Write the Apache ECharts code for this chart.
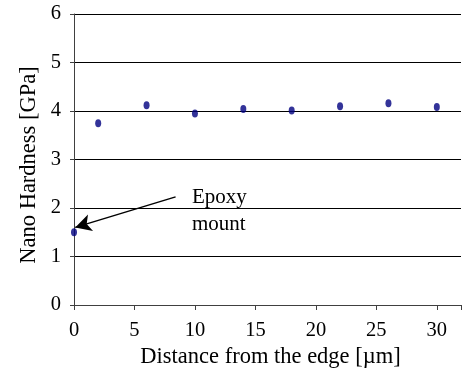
<!DOCTYPE html>
<html>
<head>
<meta charset="utf-8">
<script src="https://cdn.jsdelivr.net/npm/echarts@6/dist/echarts.min.js"></script>
<style>
  html, body { margin: 0; padding: 0; background: #fff; }
  #chart { width: 464px; height: 375px; }
</style>
</head>
<body>
<div id="chart"></div>
<script>
// Nano hardness measured along a line starting at the sample edge
const distance = [0, 2, 6, 10, 14, 18, 22, 26, 30];          // µm
const hardness = [1.5, 3.75, 4.12, 3.95, 4.04, 4.01, 4.10, 4.16, 4.08]; // GPa

const xTicks = [0, 5, 10, 15, 20, 25, 30];
const yTicks = [0, 1, 2, 3, 4, 5, 6];

// Callout pointing at the epoxy-mount reading (data coordinates)
const arrowFrom = [8.4, 2.23];
const arrowTo = [0.1, 1.6];
const calloutAt = [9.75, 1.93];
const calloutText = 'Epoxy\nmount';

const serif = 'Liberation Serif';

const chart = echarts.init(document.getElementById('chart'), null, { renderer: 'canvas' });

chart.setOption({
  backgroundColor: '#ffffff',
  animation: false,
  textStyle: { fontFamily: serif },
  grid: { left: 74, right: -3, top: 14, bottom: 70, containLabel: false },
  xAxis: {
    type: 'value',
    min: xTicks[0],
    max: 32,
    interval: 5,
    name: 'Distance from the edge [µm]',
    nameLocation: 'middle',
    nameGap: 28,
    nameTextStyle: { fontFamily: serif, fontSize: 22.5, color: '#000', padding: [0, 0, 0, 6] },
    axisLine: { show: true, lineStyle: { color: '#404040', width: 1 } },
    axisTick: { show: true, inside: false, length: 5, lineStyle: { color: '#404040' } },
    axisLabel: {
      margin: 15,
      fontFamily: serif, fontSize: 20.5, color: '#000',
      formatter: v => (xTicks.includes(v) ? String(v) : '')
    },
    splitLine: { show: false }
  },
  yAxis: {
    type: 'value',
    min: yTicks[0],
    max: yTicks[yTicks.length - 1],
    interval: 1,
    axisLine: { show: true, lineStyle: { color: '#404040', width: 1 } },
    axisTick: { show: true, inside: false, length: 4, lineStyle: { color: '#404040' } },
    axisLabel: { margin: 13, fontFamily: serif, fontSize: 20.5, color: '#000' },
    splitLine: { show: true, lineStyle: { color: '#000', width: 1 } }
  },
  graphic: [{
    type: 'text',
    x: 29,
    y: 165,
    rotation: Math.PI / 2,
    style: {
      text: 'Nano Hardness [GPa]',
      fontFamily: serif,
      fontSize: 22.5,
      fill: '#000',
      align: 'center',
      verticalAlign: 'middle'
    }
  }],
  series: [{
    type: 'scatter',
    data: distance.map((d, i) => [d, hardness[i]]),
    symbol: 'circle',
    symbolSize: [6, 8],
    itemStyle: { color: '#000080' },
    clip: false,
    z: 5,
    markLine: {
      silent: true,
      symbol: ['none', 'arrow'],
      symbolSize: [13, 16],
      lineStyle: { color: '#000', width: 1.5, type: 'solid' },
      label: { show: false },
      data: [[{ coord: arrowFrom }, { coord: arrowTo }]]
    },
    markPoint: {
      silent: true,
      symbol: 'circle',
      symbolSize: 0,
      label: {
        show: true,
        position: 'right',
        distance: 0,
        formatter: calloutText,
        fontFamily: serif,
        fontSize: 21,
        lineHeight: 27,
        color: '#000',
        align: 'left'
      },
      data: [{ coord: calloutAt }]
    }
  }]
});
</script>
</body>
</html>
